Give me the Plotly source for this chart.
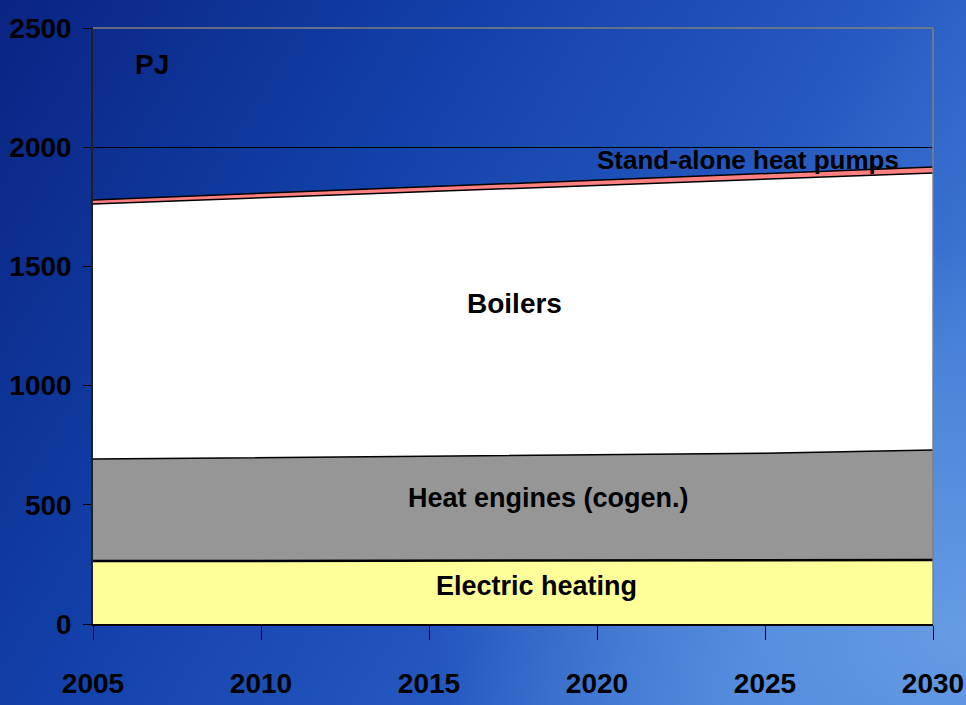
import base64
import plotly.graph_objects as go

years = [2005, 2010, 2015, 2020, 2025, 2030]
electric_heating = [264, 265, 266, 267, 268, 268]
heat_engines = [428, 433, 437, 442, 448, 462]
boilers = [1070, 1090, 1111, 1131, 1150, 1162]
heat_pumps = [17, 19, 20, 22, 23, 25]

y_ticks = [0, 500, 1000, 1500, 2000, 2500]
x_ticks = [2005, 2010, 2015, 2020, 2025, 2030]

FONT = "Liberation Sans Narrow, Liberation Sans, Arial Narrow, sans-serif"

W, H = 966, 705
ML, MR, MT, MB = 93, 33, 28, 81
PW, PH = W - ML - MR, H - MT - MB

svg = f'''<svg xmlns="http://www.w3.org/2000/svg" width="{W}" height="{H}" viewBox="0 0 {W} {H}" preserveAspectRatio="none">
<defs>
<linearGradient id="g" x1="0" y1="0" x2="1" y2="0.45">
<stop offset="0" stop-color="#0a2482"/>
<stop offset="0.4" stop-color="#1240a8"/>
<stop offset="0.75" stop-color="#2558c0"/>
<stop offset="1" stop-color="#3f78d4"/>
</linearGradient>
<radialGradient id="r" cx="1" cy="0.9" r="0.55">
<stop offset="0" stop-color="#6aa0e6" stop-opacity="0.9"/>
<stop offset="1" stop-color="#6aa0e6" stop-opacity="0"/>
</radialGradient>
</defs>
<rect width="{W}" height="{H}" fill="url(#g)"/>
<rect width="{W}" height="{H}" fill="url(#r)"/></svg>'''
src = "data:image/svg+xml;base64," + base64.b64encode(svg.encode()).decode()

fig = go.Figure()
series = [
    ("Electric heating", electric_heating, "#ffff99", 2.5),
    ("Heat engines (cogen.)", heat_engines, "#969696", 1.5),
    ("Boilers", boilers, "#ffffff", 1.5),
    ("Stand-alone heat pumps", heat_pumps, "#ff8080", 1.5),
]
for name, vals, col, lw in series:
    fig.add_trace(go.Scatter(
        x=years, y=vals, name=name, mode="lines", stackgroup="one",
        fillcolor=col, line=dict(color="#000000", width=lw),
        hoverinfo="x+y+name"))

labels = [
    ("PJ", 2006.75, 2345, 28),
    ("Stand-alone heat pumps", 2024.5, 1948, 26),
    ("Boilers", 2017.55, 1346, 28),
    ("Heat engines (cogen.)", 2018.55, 528, 27),
    ("Electric heating", 2018.2, 159, 27),
]
for txt, xx, yy, fs in labels:
    fig.add_annotation(x=xx, y=yy, text=txt, showarrow=False,
                       font=dict(family=FONT, size=fs, color="#000000", weight="bold"))

fig.add_layout_image(dict(
    source=src, xref="paper", yref="paper",
    x=-ML / PW, y=1 + MT / PH, sizex=W / PW, sizey=H / PH,
    xanchor="left", yanchor="top", sizing="stretch", layer="below"))

fig.add_shape(type="line", xref="paper", yref="paper", x0=0, x1=1, y0=1, y1=1,
              line=dict(color="#808080", width=1.5))
fig.add_shape(type="line", xref="paper", yref="paper", x0=1, x1=1, y0=0, y1=1,
              line=dict(color="#808080", width=1.5))

tf = dict(family=FONT, size=28, color="#000000", weight="bold")
fig.update_layout(
    width=W, height=H,
    margin=dict(l=ML, r=MR, t=MT, b=MB, autoexpand=False),
    paper_bgcolor="#0d3aa4", plot_bgcolor="rgba(0,0,0,0)",
    showlegend=False,
    font=dict(family=FONT, size=28, color="#000000"),
    xaxis=dict(range=[2005, 2030], tickvals=x_ticks, ticks="outside", ticklen=14,
               tickcolor="#000000", showline=True, linecolor="#000000", linewidth=1.5,
               showgrid=False, zeroline=False, ticklabelstandoff=20, automargin=False,
               tickfont=tf),
    yaxis=dict(range=[0, 2500], tickvals=y_ticks, ticks="outside", ticklen=8,
               tickcolor="#000000", showline=True, linecolor="#202020", linewidth=1.5,
               showgrid=True, gridcolor="#000000", gridwidth=1, zeroline=False,
               ticklabelstandoff=6, automargin=False,
               tickfont=tf),
)

fig.write_html("out.html", config={"displayModeBar": False},
               post_script="document.body.style.margin='0';document.body.style.padding='0';")
